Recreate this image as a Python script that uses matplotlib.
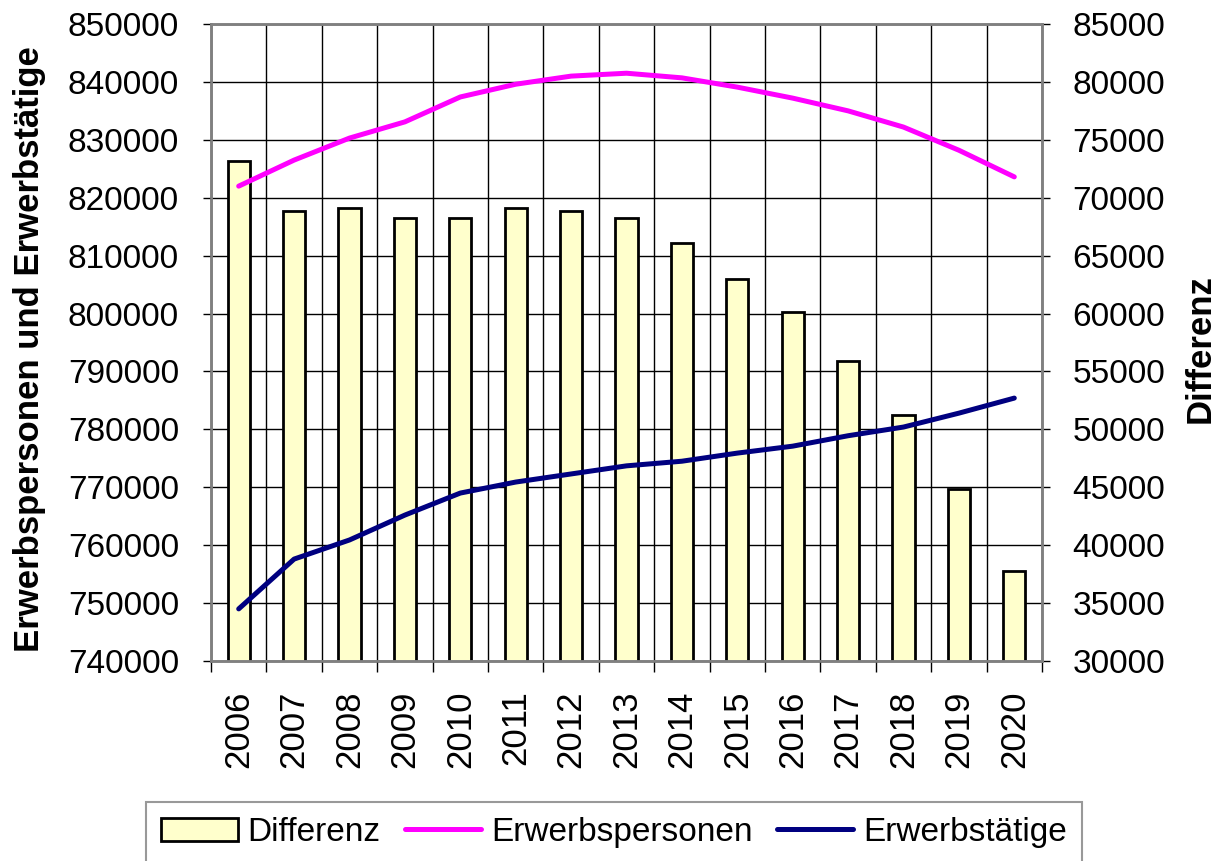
import numpy as np
import matplotlib
matplotlib.use("Agg")
import matplotlib.pyplot as plt
from matplotlib.ticker import FixedLocator

plt.rcParams['font.family'] = ['Liberation Sans', 'DejaVu Sans']

years = ["2006", "2007", "2008", "2009", "2010", "2011", "2012", "2013",
         "2014", "2015", "2016", "2017", "2018", "2019", "2020"]
erwerbspersonen = [822000, 826500, 830300, 833100, 837400, 839600, 841000, 841500,
                   840700, 839100, 837200, 835000, 832200, 828200, 823600]
erwerbstaetige = [749000, 757600, 760900, 765200, 769000, 770900, 772300, 773700,
                  774500, 775900, 777100, 778900, 780400, 782800, 785400]
differenz = [73200, 68850, 69100, 68250, 68250, 69100, 68850, 68250,
             66100, 62980, 60130, 55900, 51240, 44850, 37800]

left_ticks = list(range(740000, 850001, 10000))
right_ticks = list(range(30000, 85001, 5000))

fig = plt.figure(figsize=(12.15, 8.61), dpi=100)
ax = fig.add_axes([211/1215, 1 - 661/861, (1042 - 211)/1215, (661 - 24)/861])
ax2 = ax.twinx()

x = np.arange(len(years))

# bars on the right axis, lines on the left axis drawn on top
bars = ax2.bar(x, differenz, width=0.4, color='#FFFFCC', edgecolor='black', linewidth=2, zorder=2)
line_p, = ax.plot(x, erwerbspersonen, color='#FF00FF', lw=3.6, solid_capstyle='round', solid_joinstyle='round')
line_t, = ax.plot(x, erwerbstaetige, color='#000080', lw=3.6, solid_capstyle='round', solid_joinstyle='round')

ax.set_zorder(ax2.get_zorder() + 1)
ax.patch.set_visible(False)

ax.set_xlim(-0.5, len(years) - 0.5)
ax.set_ylim(740000, 850000)
ax2.set_ylim(30000, 85000)
ax.set_yticks(left_ticks)
ax2.set_yticks(right_ticks)
ax.set_yticklabels([str(v) for v in left_ticks])
ax2.set_yticklabels([str(v) for v in right_ticks])

ax.set_xticks(x)
ax.set_xticklabels(years, rotation=90)
ax.xaxis.set_minor_locator(FixedLocator(np.arange(-0.5, len(years), 1.0)))

ax.tick_params(axis='x', which='major', length=0, pad=21, labelsize=25)
ax.tick_params(axis='x', which='minor', length=8, width=1, direction='out')
ax.tick_params(axis='y', length=6, width=1, direction='out', pad=17, labelsize=24)
ax2.tick_params(axis='y', length=6, width=1, direction='out', pad=16, labelsize=24)

# grid sits on the bar axis so the bars cover it
ax2.xaxis.set_visible(True)
ax2.tick_params(axis='x', which='both', length=0, labelbottom=False)
ax2.set_axisbelow(True)
ax2.grid(axis='y', color='black', lw=1)
ax2.grid(axis='x', which='minor', color='black', lw=1)

for a in (ax, ax2):
    for s in a.spines.values():
        s.set_color('#808080')
        s.set_linewidth(1.8)

ax.set_ylabel("Erwerbspersonen und Erwerbstätige", fontsize=25, fontweight='bold',
              ha='center', va='center', rotation=90)
ax.yaxis.set_label_coords(-0.218, 0.49)
ax2.set_ylabel("Differenz", fontsize=25, fontweight='bold',
               ha='center', va='center', rotation=90)
ax2.yaxis.set_label_coords(1.19, 0.49)

leg = fig.legend([bars, line_p, line_t], ["Differenz", "Erwerbspersonen", "Erwerbstätige"],
                 loc='upper left', bbox_to_anchor=(146/1215, -0.2, (1082 - 146)/1215, 0.2 + 1 - 802/861),
                 mode='expand', ncol=3, fontsize=24, frameon=True, fancybox=False,
                 handlelength=2.3, handletextpad=0.3, columnspacing=0.6, borderpad=0.45,
                 borderaxespad=0)
leg.get_frame().set_edgecolor('#808080')
leg.get_frame().set_linewidth(1.5)

fig.savefig("out.png", dpi=100)
